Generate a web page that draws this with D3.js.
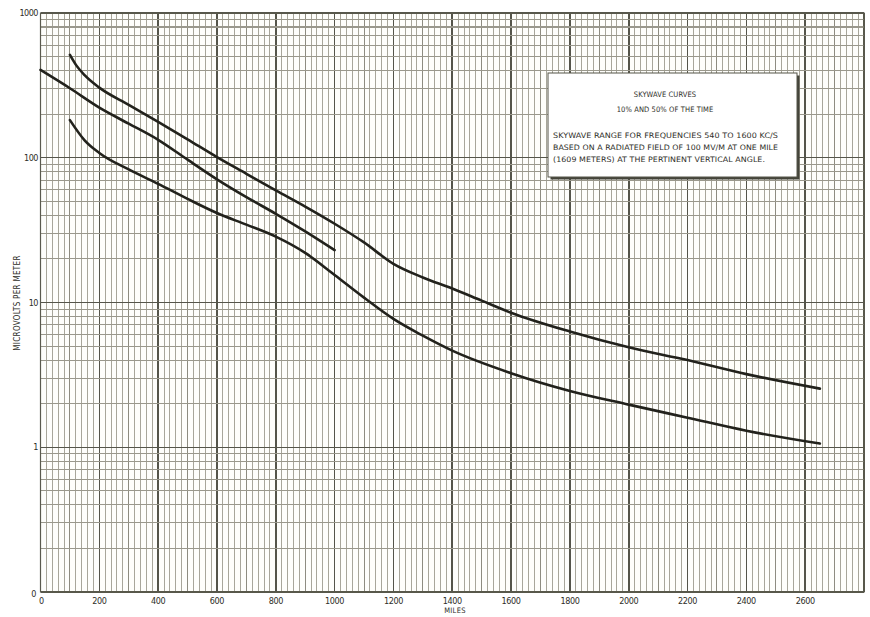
<!DOCTYPE html>
<html>
<head>
<meta charset="utf-8">
<script src="https://cdn.jsdelivr.net/npm/d3@7"></script>
<style>
  html, body { margin: 0; padding: 0; background: #ffffff; }
  svg { display: block; }
  text { font-family: "DejaVu Sans Condensed", "DejaVu Sans", sans-serif; fill: #2e2e28; }
</style>
</head>
<body>
<svg id="chart" width="870" height="617"></svg>
<script>
// ---- data ----
const xTicks = [0, 200, 400, 600, 800, 1000, 1200, 1400, 1600, 1800, 2000, 2200, 2400, 2600];
const yTickValues = [0.1, 1, 10, 100, 1000];
const yTickLabels = ["0", "1", "10", "100", "1000"];

// upper curve (10% of the time)
const upperMiles  = [100, 120, 150, 200, 300, 400, 500, 600, 700, 800, 900, 1000, 1100, 1200, 1300, 1400, 1500, 1600, 1800, 2000, 2200, 2400, 2650];
const upperValues = [513, 440, 372, 305, 232, 177, 134, 101, 77.5, 59.5, 46, 35, 26, 18.5, 14.9, 12.5, 10.3, 8.5, 6.3, 4.9, 4.0, 3.2, 2.54];

// middle curve (ends at 1000 miles)
const middleMiles  = [0, 100, 200, 300, 400, 500, 600, 700, 800, 900, 1000];
const middleValues = [404, 302, 222, 172, 133, 97, 71, 53.5, 41, 31, 23];

// lower curve (50% of the time)
const lowerMiles  = [100, 150, 200, 300, 400, 500, 600, 700, 800, 900, 1000, 1100, 1200, 1300, 1400, 1600, 1800, 2000, 2200, 2400, 2650];
const lowerValues = [182, 132, 108, 83, 66, 52, 41.5, 34.5, 28.5, 22, 15.5, 10.8, 7.7, 5.9, 4.65, 3.25, 2.45, 1.97, 1.6, 1.3, 1.06];

const boxTitle = ["SKYWAVE CURVES", "10% AND 50% OF THE TIME"];
const boxText = [
  "SKYWAVE RANGE FOR FREQUENCIES 540 TO 1600 KC/S",
  "BASED ON A RADIATED FIELD OF 100 MV/M AT ONE MILE",
  "(1609 METERS) AT THE PERTINENT VERTICAL ANGLE."
];
const xTitle = "MILES";
const yTitle = "MICROVOLTS PER METER";

// ---- layout ----
const svg = d3.select("#chart");
const pL = 40.5, pR = 864, pT = 13, pB = 592;
const x = d3.scaleLinear().domain([0, 2800]).range([pL, pR]);
const y = d3.scaleLog().domain([0.1, 1000]).range([pB, pT]);

const g = svg.append("g");

// paper background
g.append("rect").attr("x", pL).attr("y", pT).attr("width", pR - pL).attr("height", pB - pT)
  .attr("fill", "#fefefb");

// vertical grid: every 20 miles
const vLines = d3.range(0, 2801, 20);
g.append("g").selectAll("line").data(vLines).join("line")
  .attr("x1", d => x(d)).attr("x2", d => x(d))
  .attr("y1", pT).attr("y2", pB)
  .attr("stroke", d => d % 200 === 0 ? "#55554a" : (d % 100 === 0 ? "#8e8c80" : "#a8a69a"))
  .attr("stroke-width", d => d % 200 === 0 ? 1.6 : 1)
  .attr("shape-rendering", "crispEdges");

// horizontal grid: log lines 1..9 per decade
const hLines = [];
[0.1, 1, 10, 100].forEach(dec => { for (let k = 1; k <= 9; k++) hLines.push({ v: dec * k, major: k === 1 }); });
hLines.push({ v: 1000, major: true });
g.append("g").selectAll("line").data(hLines).join("line")
  .attr("x1", pL).attr("x2", pR)
  .attr("y1", d => y(d.v)).attr("y2", d => y(d.v))
  .attr("stroke", d => d.major ? "#55554a" : "#9a988c")
  .attr("stroke-width", d => d.major ? 1.4 : 1.1)
  .attr("shape-rendering", "crispEdges");

// frame
g.append("rect").attr("x", pL).attr("y", pT).attr("width", pR - pL).attr("height", pB - pT)
  .attr("fill", "none").attr("stroke", "#5a5a4e").attr("stroke-width", 1.2);

// curves
const line = d3.line().x(d => x(d[0])).y(d => y(d[1])).curve(d3.curveMonotoneX);
const curves = [
  d3.zip(upperMiles, upperValues),
  d3.zip(middleMiles, middleValues),
  d3.zip(lowerMiles, lowerValues)
];
g.append("g").selectAll("path").data(curves).join("path")
  .attr("d", line)
  .attr("fill", "none")
  .attr("stroke", "#22221c")
  .attr("stroke-width", 2.6)
  .attr("stroke-linecap", "round");

// x tick labels
g.append("g").selectAll("text").data(xTicks).join("text")
  .attr("x", d => x(d) + (d === 0 ? 1 : 0))
  .attr("y", 604)
  .attr("text-anchor", "middle")
  .attr("font-size", 9)
  .attr("letter-spacing", -0.4)
  .text(d => d);

// y tick labels
g.append("g").selectAll("text").data(yTickValues).join("text")
  .attr("x", (d, i) => i === 0 ? 36 : 38)
  .attr("y", (d, i) => y(d) + (i === 0 ? 5 : 3))
  .attr("text-anchor", "end")
  .attr("font-size", 9)
  .attr("letter-spacing", -0.5)
  .attr("font-family", "Liberation Serif, serif")
  .text((d, i) => yTickLabels[i]);

// axis titles
g.append("text").attr("x", 455).attr("y", 613).attr("text-anchor", "middle")
  .attr("font-size", 7.5).attr("letter-spacing", 0.3).text(xTitle);
g.append("text").attr("transform", "translate(20,303) rotate(-90)")
  .attr("text-anchor", "middle").attr("font-size", 8).attr("letter-spacing", 0.3).text(yTitle);

// annotation box
const bx = 548, by = 73, bw = 249, bh = 104;
g.append("rect").attr("x", bx + 2.5).attr("y", by + 2.5).attr("width", bw).attr("height", bh).attr("fill", "#44443a");
g.append("rect").attr("x", bx).attr("y", by).attr("width", bw).attr("height", bh)
  .attr("fill", "#ffffff").attr("stroke", "#555548").attr("stroke-width", 1);
const bcx = 665;
g.append("g").selectAll("text").data(boxTitle).join("text")
  .attr("x", bcx).attr("y", (d, i) => 97 + i * 15)
  .attr("text-anchor", "middle").attr("font-size", 7.5).attr("letter-spacing", 0.1)
  .text(d => d);
g.append("g").selectAll("text").data(boxText).join("text")
  .attr("x", 553).attr("y", (d, i) => 138 + i * 12)
  .attr("text-anchor", "start").attr("font-size", 7.5).attr("letter-spacing", 0.05)
  .attr("textLength", (d, i) => i === 2 ? 212 : 225).attr("lengthAdjust", "spacingAndGlyphs")
  .text(d => d);
</script>
</body>
</html>
